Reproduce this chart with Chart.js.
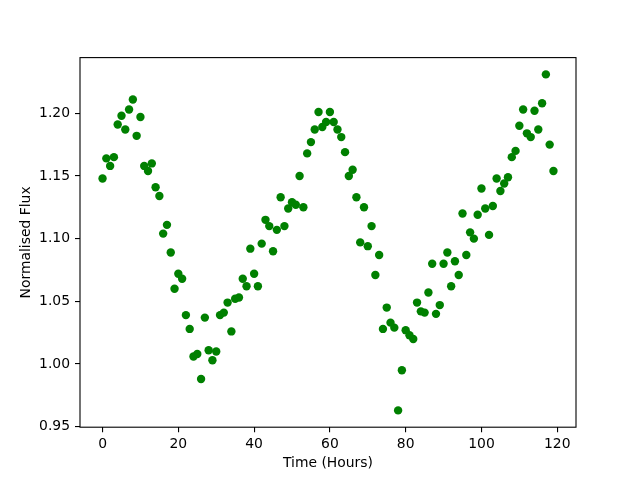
<!DOCTYPE html>
<html>
<head>
<meta charset="utf-8">
<script src="https://cdn.jsdelivr.net/npm/chart.js@4.4.1/dist/chart.umd.min.js"></script>
<style>
  body { margin: 0; background: #fff; }
  #wrap { width: 640px; height: 480px; }
</style>
</head>
<body>
<div id="wrap"><canvas id="chart"></canvas></div>
<script>
// Datos
const hours = [
  0, 1, 2, 3, 4, 5, 6, 7, 8, 9, 10, 11, 12, 13, 14, 15, 16, 17, 18, 19,
  20, 21, 22, 23, 24, 25, 26, 27, 28, 29, 30, 31, 32, 33, 34, 35, 36, 37, 38, 39,
  40, 41, 42, 43, 44, 45, 46, 47, 48, 49, 50, 51, 52, 53, 54, 55, 56, 57, 58, 59,
  60, 61, 62, 63, 64, 65, 66, 67, 68, 69, 70, 71, 72, 73, 74, 75, 76, 77, 78, 79,
  80, 81, 82, 83, 84, 85, 86, 87, 88, 89, 90, 91, 92, 93, 94, 95, 96, 97, 98, 99,
  100, 101, 102, 103, 104, 105, 106, 107, 108, 109, 110, 111, 112, 113, 114, 115, 116, 117, 118, 119
];
const flux = [
  1.148, 1.164, 1.158, 1.165, 1.191, 1.198, 1.187, 1.203, 1.211, 1.182,
  1.197, 1.158, 1.154, 1.160, 1.141, 1.134, 1.104, 1.111, 1.089, 1.060,
  1.072, 1.068, 1.039, 1.028, 1.006, 1.008, 0.988, 1.037, 1.011, 1.003,
  1.010, 1.039, 1.041, 1.049, 1.026, 1.052, 1.053, 1.068, 1.062, 1.092,
  1.072, 1.062, 1.096, 1.115, 1.110, 1.090, 1.107, 1.133, 1.110, 1.124,
  1.129, 1.127, 1.150, 1.125, 1.168, 1.177, 1.187, 1.201, 1.189, 1.193,
  1.201, 1.193, 1.187, 1.181, 1.169, 1.150, 1.155, 1.133, 1.097, 1.125,
  1.094, 1.110, 1.071, 1.087, 1.028, 1.045, 1.033, 1.029, 0.963, 0.995,
  1.027, 1.023, 1.020, 1.049, 1.042, 1.041, 1.057, 1.080, 1.040, 1.047,
  1.080, 1.089, 1.062, 1.082, 1.071, 1.120, 1.087, 1.105, 1.100, 1.119,
  1.140, 1.124, 1.103, 1.126, 1.148, 1.138, 1.144, 1.149, 1.165, 1.170,
  1.190, 1.203, 1.184, 1.181, 1.202, 1.187, 1.208, 1.231, 1.175, 1.154
];
const xTicks = [0, 20, 40, 60, 80, 100, 120];
const yTicks = [0.95, 1.00, 1.05, 1.10, 1.15, 1.20];

// Márgenes del 5% como matplotlib
function limits(values) {
  const lo = Math.min(...values);
  const hi = Math.max(...values);
  const m = (hi - lo) * 0.05;
  return [lo - m, hi + m];
}
const [xMin, xMax] = limits(hours);
const [yMin, yMax] = limits(flux);

const font = { family: 'DejaVu Sans', size: 13.9 };

// Marco completo alrededor del área del gráfico
const framePlugin = {
  id: 'frame',
  afterDraw(chart) {
    const { ctx, chartArea: a } = chart;
    ctx.save();
    ctx.strokeStyle = '#000';
    ctx.lineWidth = 1.1;
    ctx.strokeRect(a.left, a.top, a.right - a.left, a.bottom - a.top);
    ctx.restore();
  }
};

new Chart(document.getElementById('chart'), {
  type: 'scatter',
  data: {
    datasets: [{
      data: hours.map((h, i) => ({ x: h, y: flux[i] })),
      backgroundColor: '#008000',
      borderWidth: 0,
      pointRadius: 4.2,
      pointHoverRadius: 4.2
    }]
  },
  options: {
    responsive: true,
    maintainAspectRatio: false,
    animation: false,
    layout: { padding: { top: 57.6, right: 64, left: 0, bottom: 0 } },
    plugins: {
      legend: { display: false },
      tooltip: { enabled: false }
    },
    scales: {
      x: {
        type: 'linear',
        min: xMin,
        max: xMax,
        afterBuildTicks: scale => { scale.ticks = xTicks.map(v => ({ value: v })); },
        afterFit: scale => { scale.height = 52.8; },
        grid: { drawOnChartArea: false, drawTicks: true, tickLength: 5, color: '#000', lineWidth: 1.1 },
        border: { display: false },
        ticks: { color: '#000', font: font, padding: 4, maxRotation: 0, callback: v => String(v) },
        title: { display: true, text: 'Time (Hours)', color: '#000', font: font, padding: { top: 0, bottom: 8.5 } }
      },
      y: {
        type: 'linear',
        min: yMin,
        max: yMax,
        afterBuildTicks: scale => { scale.ticks = yTicks.map(v => ({ value: v })); },
        afterFit: scale => { scale.width = 80; },
        grid: { drawOnChartArea: false, drawTicks: true, tickLength: 5, color: '#000', lineWidth: 1.1 },
        border: { display: false },
        ticks: { color: '#000', font: font, padding: 5, callback: v => v.toFixed(2) },
        title: { display: true, text: 'Normalised Flux', color: '#000', font: font, padding: { top: 18.5, bottom: 0 } }
      }
    }
  },
  plugins: [framePlugin]
});
</script>
</body>
</html>
